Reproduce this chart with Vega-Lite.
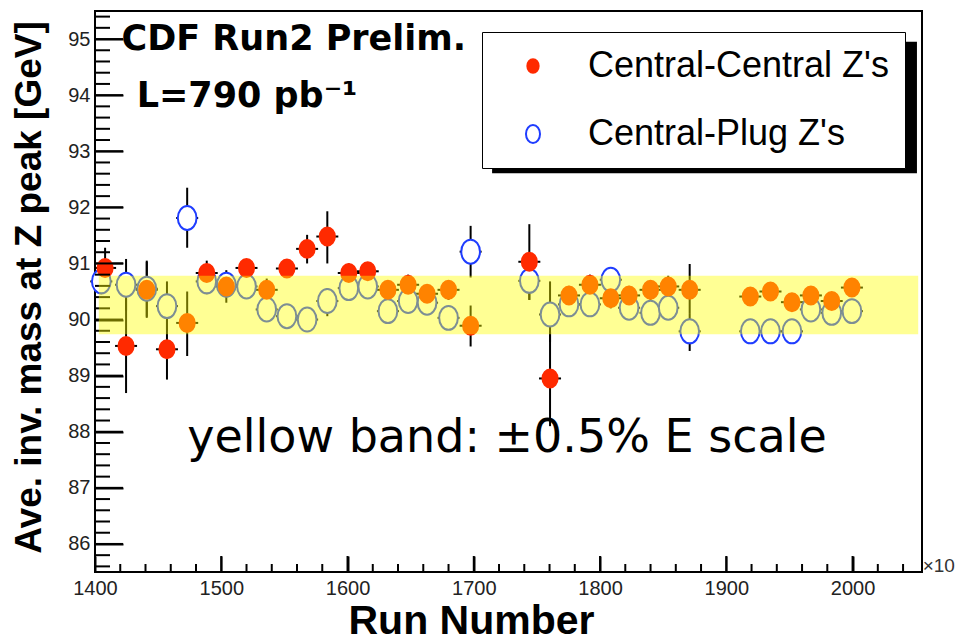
{
  "$schema": "https://vega.github.io/schema/vega-lite/v6.json",
  "width": 827,
  "height": 561,
  "autosize": {"type": "none"},
  "padding": {"left": 95, "top": 11, "right": 34, "bottom": 70},
  "background": "white",
  "config": {
    "view": {"stroke": "black", "strokeWidth": 2},
    "font": "Liberation Sans"
  },
  "resolve": {"axis": {"x": "independent", "y": "independent"}},
  "datasets": {
    "points": [
      {"run": 1405, "mass": 90.68, "lo": 90.45, "hi": 90.9, "s": "Central-Plug Z's"},
      {"run": 1424.6, "mass": 90.62, "lo": 90.16, "hi": 91.08, "s": "Central-Plug Z's"},
      {"run": 1441, "mass": 90.55, "lo": 90.05, "hi": 91.05, "s": "Central-Plug Z's"},
      {"run": 1457, "mass": 90.24, "lo": 89.8, "hi": 90.68, "s": "Central-Plug Z's"},
      {"run": 1473, "mass": 91.81, "lo": 91.28, "hi": 92.35, "s": "Central-Plug Z's"},
      {"run": 1488.5, "mass": 90.68, "lo": 90.45, "hi": 90.9, "s": "Central-Plug Z's"},
      {"run": 1504, "mass": 90.62, "lo": 90.4, "hi": 90.85, "s": "Central-Plug Z's"},
      {"run": 1520, "mass": 90.59, "lo": 90.4, "hi": 90.78, "s": "Central-Plug Z's"},
      {"run": 1536, "mass": 90.18, "lo": 90.0, "hi": 90.36, "s": "Central-Plug Z's"},
      {"run": 1552, "mass": 90.06, "lo": 89.9, "hi": 90.22, "s": "Central-Plug Z's"},
      {"run": 1568, "mass": 90.0, "lo": 89.85, "hi": 90.15, "s": "Central-Plug Z's"},
      {"run": 1584, "mass": 90.33, "lo": 90.06, "hi": 90.56, "s": "Central-Plug Z's"},
      {"run": 1601, "mass": 90.56, "lo": 90.4, "hi": 90.72, "s": "Central-Plug Z's"},
      {"run": 1616, "mass": 90.59, "lo": 90.45, "hi": 90.75, "s": "Central-Plug Z's"},
      {"run": 1632, "mass": 90.15, "lo": 90.0, "hi": 90.3, "s": "Central-Plug Z's"},
      {"run": 1648, "mass": 90.33, "lo": 90.15, "hi": 90.5, "s": "Central-Plug Z's"},
      {"run": 1663, "mass": 90.3, "lo": 90.15, "hi": 90.45, "s": "Central-Plug Z's"},
      {"run": 1680, "mass": 90.03, "lo": 89.88, "hi": 90.18, "s": "Central-Plug Z's"},
      {"run": 1697.5, "mass": 91.21, "lo": 90.75, "hi": 91.67, "s": "Central-Plug Z's"},
      {"run": 1744, "mass": 90.69, "lo": 90.35, "hi": 91.0, "s": "Central-Plug Z's"},
      {"run": 1760.4, "mass": 90.09, "lo": 89.6, "hi": 90.68, "s": "Central-Plug Z's"},
      {"run": 1775.4, "mass": 90.27, "lo": 90.12, "hi": 90.42, "s": "Central-Plug Z's"},
      {"run": 1792, "mass": 90.27, "lo": 90.12, "hi": 90.42, "s": "Central-Plug Z's"},
      {"run": 1808.5, "mass": 90.71, "lo": 90.55, "hi": 90.87, "s": "Central-Plug Z's"},
      {"run": 1823, "mass": 90.21, "lo": 90.06, "hi": 90.36, "s": "Central-Plug Z's"},
      {"run": 1840, "mass": 90.12, "lo": 89.97, "hi": 90.27, "s": "Central-Plug Z's"},
      {"run": 1854, "mass": 90.21, "lo": 90.05, "hi": 90.37, "s": "Central-Plug Z's"},
      {"run": 1871, "mass": 89.79, "lo": 89.44, "hi": 90.1, "s": "Central-Plug Z's"},
      {"run": 1919, "mass": 89.79, "lo": 89.65, "hi": 89.93, "s": "Central-Plug Z's"},
      {"run": 1935, "mass": 89.79, "lo": 89.65, "hi": 89.93, "s": "Central-Plug Z's"},
      {"run": 1952, "mass": 89.79, "lo": 89.65, "hi": 89.93, "s": "Central-Plug Z's"},
      {"run": 1967, "mass": 90.18, "lo": 90.03, "hi": 90.33, "s": "Central-Plug Z's"},
      {"run": 1983.5, "mass": 90.12, "lo": 89.97, "hi": 90.27, "s": "Central-Plug Z's"},
      {"run": 1999.5, "mass": 90.15, "lo": 90.0, "hi": 90.3, "s": "Central-Plug Z's"},
      {"run": 1408, "mass": 90.92, "lo": 90.57, "hi": 91.28, "s": "Central-Central Z's"},
      {"run": 1424.6, "mass": 89.53, "lo": 88.69, "hi": 90.37, "s": "Central-Central Z's"},
      {"run": 1441, "mass": 90.53, "lo": 90.03, "hi": 91.03, "s": "Central-Central Z's"},
      {"run": 1457, "mass": 89.47, "lo": 88.93, "hi": 90.0, "s": "Central-Central Z's"},
      {"run": 1473, "mass": 89.94, "lo": 89.35, "hi": 90.5, "s": "Central-Central Z's"},
      {"run": 1488.5, "mass": 90.83, "lo": 90.6, "hi": 91.05, "s": "Central-Central Z's"},
      {"run": 1504, "mass": 90.59, "lo": 90.3, "hi": 90.88, "s": "Central-Central Z's"},
      {"run": 1520, "mass": 90.92, "lo": 90.77, "hi": 91.07, "s": "Central-Central Z's"},
      {"run": 1536, "mass": 90.53, "lo": 90.33, "hi": 90.73, "s": "Central-Central Z's"},
      {"run": 1552, "mass": 90.91, "lo": 90.76, "hi": 91.06, "s": "Central-Central Z's"},
      {"run": 1568, "mass": 91.26, "lo": 91.0, "hi": 91.51, "s": "Central-Central Z's"},
      {"run": 1584, "mass": 91.48, "lo": 91.0, "hi": 91.93, "s": "Central-Central Z's"},
      {"run": 1601, "mass": 90.83, "lo": 90.65, "hi": 91.0, "s": "Central-Central Z's"},
      {"run": 1616, "mass": 90.86, "lo": 90.7, "hi": 91.0, "s": "Central-Central Z's"},
      {"run": 1632, "mass": 90.53, "lo": 90.35, "hi": 90.7, "s": "Central-Central Z's"},
      {"run": 1648, "mass": 90.62, "lo": 90.45, "hi": 90.8, "s": "Central-Central Z's"},
      {"run": 1663, "mass": 90.46, "lo": 90.3, "hi": 90.62, "s": "Central-Central Z's"},
      {"run": 1680, "mass": 90.53, "lo": 90.35, "hi": 90.7, "s": "Central-Central Z's"},
      {"run": 1697.5, "mass": 89.89, "lo": 89.52, "hi": 90.25, "s": "Central-Central Z's"},
      {"run": 1744, "mass": 91.03, "lo": 90.35, "hi": 91.7, "s": "Central-Central Z's"},
      {"run": 1760.4, "mass": 88.95, "lo": 88.1, "hi": 89.79, "s": "Central-Central Z's"},
      {"run": 1775.4, "mass": 90.43, "lo": 90.25, "hi": 90.6, "s": "Central-Central Z's"},
      {"run": 1792, "mass": 90.62, "lo": 90.45, "hi": 90.8, "s": "Central-Central Z's"},
      {"run": 1808.5, "mass": 90.38, "lo": 90.2, "hi": 90.55, "s": "Central-Central Z's"},
      {"run": 1823, "mass": 90.43, "lo": 90.25, "hi": 90.6, "s": "Central-Central Z's"},
      {"run": 1840, "mass": 90.53, "lo": 90.35, "hi": 90.7, "s": "Central-Central Z's"},
      {"run": 1854, "mass": 90.59, "lo": 90.4, "hi": 90.78, "s": "Central-Central Z's"},
      {"run": 1871, "mass": 90.53, "lo": 90.1, "hi": 90.99, "s": "Central-Central Z's"},
      {"run": 1919, "mass": 90.41, "lo": 90.25, "hi": 90.57, "s": "Central-Central Z's"},
      {"run": 1935, "mass": 90.5, "lo": 90.35, "hi": 90.65, "s": "Central-Central Z's"},
      {"run": 1952, "mass": 90.31, "lo": 90.15, "hi": 90.47, "s": "Central-Central Z's"},
      {"run": 1967, "mass": 90.43, "lo": 90.28, "hi": 90.58, "s": "Central-Central Z's"},
      {"run": 1983.5, "mass": 90.33, "lo": 90.18, "hi": 90.48, "s": "Central-Central Z's"},
      {"run": 1999.5, "mass": 90.57, "lo": 90.42, "hi": 90.72, "s": "Central-Central Z's"}
    ],
    "band": [{"run": 1403, "run2": 2052, "lo": 89.74, "hi": 90.78}],
    "shadow": [{"run": 1714.5, "run2": 2051, "lo": 92.61, "hi": 94.95}],
    "xmaj": [{"v": 1400}, {"v": 1500}, {"v": 1600}, {"v": 1700}, {"v": 1800}, {"v": 1900}, {"v": 2000}],
    "xmin": [{"v": 1420}, {"v": 1440}, {"v": 1460}, {"v": 1480}, {"v": 1520}, {"v": 1540}, {"v": 1560}, {"v": 1580}, {"v": 1620}, {"v": 1640}, {"v": 1660}, {"v": 1680}, {"v": 1720}, {"v": 1740}, {"v": 1760}, {"v": 1780}, {"v": 1820}, {"v": 1840}, {"v": 1860}, {"v": 1880}, {"v": 1920}, {"v": 1940}, {"v": 1960}, {"v": 1980}, {"v": 2020}, {"v": 2040}],
    "ymaj": [{"v": 86}, {"v": 87}, {"v": 88}, {"v": 89}, {"v": 90}, {"v": 91}, {"v": 92}, {"v": 93}, {"v": 94}, {"v": 95}],
    "ymin": [{"v": 85.6}, {"v": 85.8}, {"v": 86.2}, {"v": 86.4}, {"v": 86.6}, {"v": 86.8}, {"v": 87.2}, {"v": 87.4}, {"v": 87.6}, {"v": 87.8}, {"v": 88.2}, {"v": 88.4}, {"v": 88.6}, {"v": 88.8}, {"v": 89.2}, {"v": 89.4}, {"v": 89.6}, {"v": 89.8}, {"v": 90.2}, {"v": 90.4}, {"v": 90.6}, {"v": 90.8}, {"v": 91.2}, {"v": 91.4}, {"v": 91.6}, {"v": 91.8}, {"v": 92.2}, {"v": 92.4}, {"v": 92.6}, {"v": 92.8}, {"v": 93.2}, {"v": 93.4}, {"v": 93.6}, {"v": 93.8}, {"v": 94.2}, {"v": 94.4}, {"v": 94.6}, {"v": 94.8}, {"v": 95.2}, {"v": 95.4}],
    "bold": [
      {"run": 1421, "mass": 94.8, "t": "CDF Run2 Prelim."},
      {"run": 1433, "mass": 93.79, "t": "L=790 pb⁻¹"}
    ],
    "note": [{"run": 1473, "mass": 87.64, "t": "yellow band: ±0.5% E scale"}],
    "mult": [{"run": 2055.5, "mass": 85.5, "t": "×10"}]
  },
  "layer": [
    {
      "data": {"name": "shadow"},
      "mark": {"type": "rect", "color": "black"},
      "encoding": {
        "x": {
          "field": "run", "type": "quantitative",
          "scale": {"domain": [1400, 2055], "nice": false, "zero": false},
          "axis": {
            "orient": "bottom",
            "tickCount": 7,
            "format": "d",
            "offset": -16,
            "tickSize": 16,
            "tickColor": "black",
            "tickWidth": 2,
            "domain": false,
            "grid": false,
            "labelPadding": 6,
            "labelFont": "Liberation Sans Narrow, Liberation Sans",
            "labelFontSize": 20,
            "labelColor": "#222222",
            "labelFlush": false,
            "labelOverlap": false,
            "title": "Run Number",
            "titleFont": "Liberation Sans",
            "titleFontSize": 41,
            "titleFontWeight": "bold",
            "titleColor": "black",
            "titleX": 376,
            "titleY": 77,
            "titleAlign": "center",
            "titleBaseline": "alphabetic"
          }
        },
        "x2": {"field": "run2"},
        "y": {
          "field": "lo", "type": "quantitative",
          "scale": {"domain": [85.5, 95.5], "nice": false, "zero": false},
          "axis": {
            "orient": "left",
            "tickCount": 10,
            "format": "d",
            "offset": -28,
            "tickSize": 28,
            "tickColor": "black",
            "tickWidth": 2,
            "domain": false,
            "grid": false,
            "labelPadding": 5,
            "labelFont": "Liberation Sans Narrow, Liberation Sans",
            "labelFontSize": 20,
            "labelColor": "#222222",
            "labelFlush": false,
            "labelOverlap": false,
            "title": "Ave. inv. mass at Z peak [GeV]",
            "titleFont": "Liberation Sans",
            "titleFontSize": 37,
            "titleFontWeight": "bold",
            "titleColor": "black",
            "titleAngle": 270,
            "titleX": -83,
            "titleY": 276,
            "titleAlign": "center",
            "titleBaseline": "alphabetic"
          }
        },
        "y2": {"field": "hi"}
      }
    },
    {
      "data": {"name": "points"},
      "mark": {"type": "rule", "color": "black", "strokeWidth": 2},
      "encoding": {
        "x": {"field": "run", "type": "quantitative", "axis": null},
        "y": {"field": "lo", "type": "quantitative", "axis": null},
        "y2": {"field": "hi"}
      }
    },
    {
      "data": {"name": "points"},
      "mark": {"type": "tick", "orient": "horizontal", "color": "black", "size": 22, "thickness": 2, "opacity": 1},
      "encoding": {
        "x": {"field": "run", "type": "quantitative", "axis": null},
        "y": {"field": "mass", "type": "quantitative", "axis": null}
      }
    },
    {
      "data": {"name": "points"},
      "mark": {"type": "point", "strokeWidth": 2, "opacity": 1, "size": 676},
      "encoding": {
        "x": {"field": "run", "type": "quantitative", "axis": null},
        "y": {"field": "mass", "type": "quantitative", "axis": null},
        "fill": {
          "field": "s", "type": "nominal",
          "scale": {"domain": ["Central-Central Z's", "Central-Plug Z's"], "range": ["#ff2a00", "#ffffff"]},
          "legend": {
            "title": null,
            "orient": "none",
            "legendX": 387,
            "legendY": 21,
            "zindex": 2,
            "fillColor": "white",
            "strokeColor": "black",
            "padding": 16,
            "rowPadding": 32,
            "symbolOffset": 17,
            "labelOffset": 37,
            "symbolSize": 380,
            "symbolStrokeWidth": 2,
            "labelFont": "Liberation Sans",
            "labelFontSize": 36,
            "labelColor": "black",
            "labelLimit": 500
          }
        },
        "stroke": {
          "field": "s", "type": "nominal",
          "scale": {"domain": ["Central-Central Z's", "Central-Plug Z's"], "range": ["#ff2a00", "#1f3dff"]}
        },
        "shape": {
          "field": "s", "type": "nominal",
          "scale": {"domain": ["Central-Central Z's", "Central-Plug Z's"], "range": ["M-0.58,0A0.58,0.69,0,1,1,0.58,0A0.58,0.69,0,1,1,-0.58,0Z", "M-0.72,0A0.72,0.92,0,1,1,0.72,0A0.72,0.92,0,1,1,-0.72,0Z"]}
        }
      }
    },
    {
      "data": {"name": "xmaj"},
      "mark": {"type": "rule", "color": "black", "strokeWidth": 2, "clip": false},
      "encoding": {
        "x": {"field": "v", "type": "quantitative", "axis": null},
        "y": {"value": 561},
        "y2": {"value": 545}
      }
    },
    {
      "data": {"name": "xmin"},
      "mark": {"type": "rule", "color": "black", "strokeWidth": 2, "clip": false},
      "encoding": {
        "x": {"field": "v", "type": "quantitative", "axis": null},
        "y": {"value": 561},
        "y2": {"value": 553}
      }
    },
    {
      "data": {"name": "ymaj"},
      "mark": {"type": "rule", "color": "black", "strokeWidth": 2, "clip": false},
      "encoding": {
        "y": {"field": "v", "type": "quantitative", "axis": null},
        "x": {"value": 0},
        "x2": {"value": 28}
      }
    },
    {
      "data": {"name": "ymin"},
      "mark": {"type": "rule", "color": "black", "strokeWidth": 2, "clip": false},
      "encoding": {
        "y": {"field": "v", "type": "quantitative", "axis": null},
        "x": {"value": 0},
        "x2": {"value": 15}
      }
    },
    {
      "data": {"name": "band"},
      "mark": {"type": "rect", "color": "#ffff00", "opacity": 0.42},
      "encoding": {
        "x": {"field": "run", "type": "quantitative", "axis": null},
        "x2": {"field": "run2"},
        "y": {"field": "lo", "type": "quantitative", "axis": null},
        "y2": {"field": "hi"}
      }
    },
    {
      "data": {"name": "bold"},
      "mark": {"type": "text", "font": "DejaVu Sans", "fontWeight": "bold", "fontSize": 35, "align": "left", "baseline": "alphabetic", "color": "black"},
      "encoding": {
        "x": {"field": "run", "type": "quantitative", "axis": null},
        "y": {"field": "mass", "type": "quantitative", "axis": null},
        "text": {"field": "t"}
      }
    },
    {
      "data": {"name": "note"},
      "mark": {"type": "text", "font": "DejaVu Sans", "fontSize": 46, "align": "left", "baseline": "alphabetic", "color": "black"},
      "encoding": {
        "x": {"field": "run", "type": "quantitative", "axis": null},
        "y": {"field": "mass", "type": "quantitative", "axis": null},
        "text": {"field": "t"}
      }
    },
    {
      "data": {"name": "mult"},
      "mark": {"type": "text", "font": "Liberation Sans Narrow, Liberation Sans", "fontSize": 19, "align": "left", "baseline": "alphabetic", "color": "#333333"},
      "encoding": {
        "x": {"field": "run", "type": "quantitative", "axis": null},
        "y": {"field": "mass", "type": "quantitative", "axis": null},
        "text": {"field": "t"}
      }
    }
  ]
}
